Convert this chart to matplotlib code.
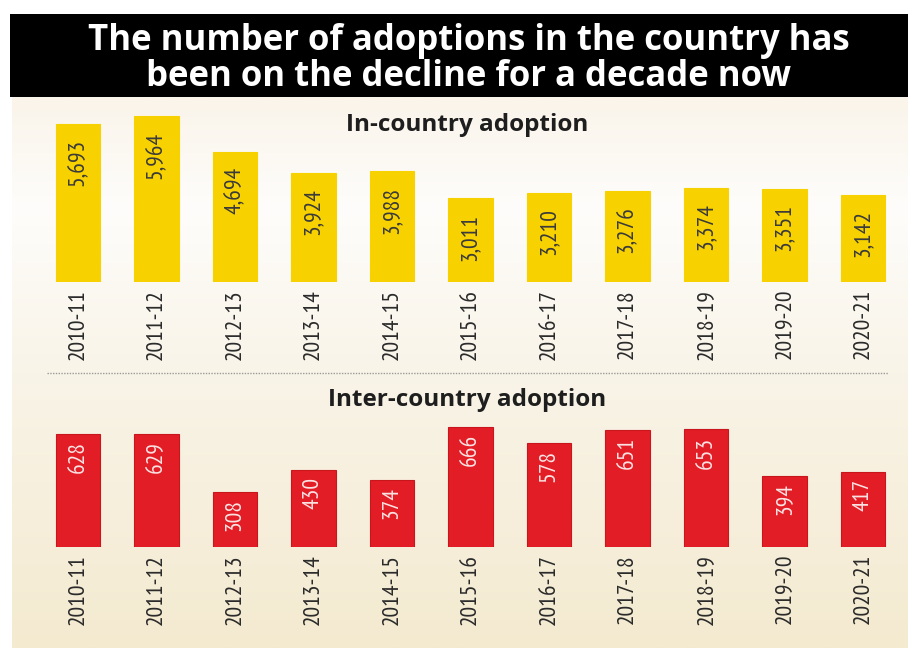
import numpy as np
import matplotlib
matplotlib.use("Agg")
import matplotlib.pyplot as plt
from matplotlib.patches import Rectangle
from matplotlib.colors import LinearSegmentedColormap

# data
years = ['2010-11', '2011-12', '2012-13', '2013-14', '2014-15', '2015-16',
         '2016-17', '2017-18', '2018-19', '2019-20', '2020-21']
in_country = [5693, 5964, 4694, 3924, 3988, 3011, 3210, 3276, 3374, 3351, 3142]
inter_country = [628, 629, 308, 430, 374, 666, 578, 651, 653, 394, 417]

title = 'The number of adoptions in the country has\nbeen on the decline for a decade now'
sub_top = 'In-country adoption'
sub_bottom = 'Inter-country adoption'

narrow = ['PT Sans Narrow', 'DejaVu Sans']
W, H = 908, 648

fig = plt.figure(figsize=(W / 100, H / 100), dpi=100)
fig.patch.set_facecolor('white')

def fx(px):
    return px / W

def fy(px):
    # pixel from top -> figure fraction
    return 1 - px / H

# background panel with a soft cream gradient
bg = fig.add_axes([fx(12), 0, fx(896), fy(97)])
cmap = LinearSegmentedColormap.from_list(
    'bg', [(0.0, '#faf4ea'), (0.2, '#fefdfb'), (0.5, '#f9f4e8'), (1.0, '#f4ead0')])
grad = np.linspace(0, 1, 256).reshape(-1, 1)
bg.imshow(grad, aspect='auto', cmap=cmap, extent=[0, 1, 0, 1], origin='upper')
bg.set_axis_off()

# black title box
fig.add_artist(Rectangle((fx(10), fy(97)), fx(898), 83 / H, transform=fig.transFigure,
                         facecolor='black', edgecolor='none'))
fig.text(fx(469), fy(59), title, color='white', fontsize=25, fontweight='bold',
         family='Open Sans', ha='center', va='center', linespacing=1.0)

x = np.arange(len(years))
left = fx(38.75)
width = fx(863.5)

def panel(bottom_px, top_lim, px_per_unit, values, color, edge, txt_color, gap):
    height_px = top_lim * px_per_unit
    ax = fig.add_axes([left, fy(bottom_px), width, height_px / H])
    ax.patch.set_alpha(0)
    ax.bar(x, values, width=0.573, color=color, edgecolor=edge, linewidth=0.8)
    ax.set_xlim(-0.5, len(years) - 0.5)
    ax.set_ylim(0, top_lim)
    for xi, v in zip(x, values):
        ax.annotate(f'{v:,}', (xi, v), xytext=(0, -gap), textcoords='offset points',
                    rotation=90, ha='center', va='top', fontsize=17,
                    family=narrow, color=txt_color)
    ax.set_xticks(x)
    ax.set_xticklabels(years, rotation=90, fontsize=17, family=narrow, color='#2a2a2a')
    ax.tick_params(axis='x', length=0, pad=5)
    ax.set_yticks([])
    for s in ax.spines.values():
        s.set_visible(False)
    return ax

panel(282, 6200, 0.0278, in_country, '#f8d200', '#f8d200', '#3a3a3a', 11)
panel(547, 700, 0.18, inter_country, '#e31d25', '#c8161d', '#fbe3e3', 5)

fig.text(fx(467), fy(125), sub_top, fontsize=17.5, fontweight='bold', color='#1e1e1e',
         family='Open Sans', ha='center', va='center')
fig.text(fx(467), fy(400), sub_bottom, fontsize=17.5, fontweight='bold', color='#1e1e1e',
         family='Open Sans', ha='center', va='center')

# dotted separator
fig.add_artist(plt.Line2D([fx(47), fx(888)], [fy(373), fy(373)], transform=fig.transFigure,
                          color='#9a9a9a', linestyle=(0, (1, 1)), linewidth=1))

fig.savefig('out.png', dpi=100)
